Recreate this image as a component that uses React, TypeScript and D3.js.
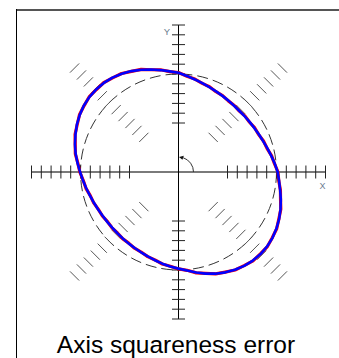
import React from "react";
import * as d3 from "d3";

// ---- data ----
const tickValues = [50, 60, 70, 80, 90, 100, 110, 120, 130, 140, 150];
const axisDirections = [0, 90, 180, 270];
const diagonalDirections = [45, 135, 225, 315];
const nominalRadius = 100;
const axisLabels = ["X", "Y"];
const title = "Axis squareness error";

const traceAngles = [
  0, 5, 10, 15, 20, 25, 30, 35, 40, 45, 50, 55, 60, 65, 70, 75, 80, 85,
  90, 95, 100, 105, 110, 115, 120, 125, 130, 135, 140, 145, 150, 155, 160, 165, 170, 175,
  180, 185, 190, 195, 200, 205, 210, 215, 220, 225, 230, 235, 240, 245, 250, 255, 260, 265,
  270, 275, 280, 285, 290, 295, 300, 305, 310, 315, 320, 325, 330, 335, 340, 345, 350, 355,
];
const blueRadii = [
  101.2, 98.6, 96.0, 93.8, 91.9, 90.6, 89.5, 88.8, 88.3, 88.0, 88.3, 88.9, 89.7, 90.7, 92.1, 93.9, 95.9, 98.4,
  101.2, 103.1, 105.6, 108.3, 111.0, 113.6, 115.8, 117.5, 118.6, 119.0, 118.8, 118.0, 116.4, 114.4, 111.9, 109.4, 106.6, 103.4,
  100.4, 97.9, 95.6, 93.5, 91.8, 90.5, 89.4, 88.7, 88.3, 88.3, 88.5, 88.9, 89.5, 90.4, 91.6, 93.2, 95.0, 96.8,
  98.6, 101.0, 104.2, 107.4, 110.4, 113.0, 115.2, 116.9, 118.0, 118.4, 118.1, 117.1, 115.4, 113.3, 110.8, 108.1, 105.3, 103.0,
];
const redRadii = [
  101.5, 98.3, 96.4, 93.5, 92.3, 90.3, 89.9, 88.5, 88.7, 87.8, 88.6, 88.6, 90.0, 90.4, 92.5, 93.6, 96.3, 98.1,
  101.5, 102.8, 105.9, 108.0, 111.4, 113.3, 116.1, 117.2, 118.9, 118.7, 119.1, 117.7, 116.7, 114.1, 112.3, 109.1, 106.9, 103.1,
  100.7, 97.6, 95.9, 93.2, 92.1, 90.2, 89.7, 88.4, 88.6, 88.0, 88.8, 88.6, 89.8, 90.1, 91.9, 92.9, 95.3, 96.5,
  98.9, 100.7, 104.5, 107.1, 110.7, 112.7, 115.5, 116.6, 118.3, 118.1, 118.4, 116.8, 115.7, 113.0, 111.1, 107.8, 105.6, 102.7,
];

// ---- layout ----
const W = 339;
const H = 358;
const cx = 178.5;
const cy = 172;
const tickHalf = 6.5;

export default function App() {
  const rs = d3.scaleLinear().domain([0, 150]).range([0, 147]);
  const rad = (deg: number) => (deg * Math.PI) / 180;

  const radial = d3
    .lineRadial<number>()
    .angle((_, i) => Math.PI / 2 - rad(traceAngles[i]))
    .radius((r) => rs(r))
    .curve(d3.curveLinearClosed);

  const tickLines = (dirs: number[], color: string, prefix: string) =>
    dirs.flatMap((deg) =>
      tickValues.map((t) => {
        const a = rad(deg);
        const px = cx + rs(t) * Math.cos(a);
        const py = cy - rs(t) * Math.sin(a);
        const ox = Math.sin(a) * tickHalf;
        const oy = Math.cos(a) * tickHalf;
        return (
          <line
            key={`${prefix}-${deg}-${t}`}
            x1={px - ox}
            y1={py - oy}
            x2={px + ox}
            y2={py + oy}
            stroke={color}
            strokeWidth={1}
          />
        );
      })
    );

  const maxR = rs(tickValues[tickValues.length - 1]);

  // rotation arrow (small arc from X toward Y)
  const arcR = 15;
  const p = d3.path();
  p.arc(cx, cy, arcR, 0, -rad(72), true);
  const tipA = rad(88);
  const tip = [cx + arcR * Math.cos(tipA), cy - arcR * Math.sin(tipA)];
  const baseA = rad(72);
  const base = [cx + arcR * Math.cos(baseA), cy - arcR * Math.sin(baseA)];
  const nx = Math.cos(baseA) * 2.2;
  const ny = -Math.sin(baseA) * 2.2;

  return (
    <svg
      width={W}
      height={H}
      style={{ position: "absolute", left: 0, top: 0, background: "#fff" }}
      fontFamily="'Liberation Sans', Arial, sans-serif"
    >
      {/* frame */}
      <line x1={16} y1={10} x2={W} y2={10} stroke="#555" strokeWidth={2} />
      <line x1={16.5} y1={9} x2={16.5} y2={H} stroke="#000" strokeWidth={1} />

      {/* dashed nominal circle */}
      <circle
        cx={cx}
        cy={cy}
        r={rs(nominalRadius)}
        fill="none"
        stroke="#333"
        strokeWidth={1}
        strokeDasharray="11 5"
      />

      {/* diagonal ticks */}
      {tickLines(diagonalDirections, "#555", "d")}

      {/* axes */}
      <line x1={cx - maxR} y1={cy} x2={cx + maxR} y2={cy} stroke="#7a7a7a" strokeWidth={2} />
      <line x1={cx} y1={cy - maxR} x2={cx} y2={cy + maxR} stroke="#000" strokeWidth={1} />
      {tickLines(axisDirections, "#222", "a")}

      {/* measured traces */}
      <path
        d={radial(redRadii) || ""}
        transform={`translate(${cx},${cy})`}
        fill="none"
        stroke="#ff0000"
        strokeWidth={3.2}
        strokeLinejoin="round"
      />
      <path
        d={radial(blueRadii) || ""}
        transform={`translate(${cx},${cy})`}
        fill="none"
        stroke="#0000ff"
        strokeWidth={2.6}
        strokeLinejoin="round"
      />

      {/* rotation arrow */}
      <path d={p.toString()} fill="none" stroke="#333" strokeWidth={1} />
      <path
        d={`M${tip[0]},${tip[1]} L${base[0] + nx},${base[1] + ny} L${base[0] - nx},${base[1] - ny} Z`}
        fill="#111"
      />

      {/* axis labels */}
      <text x={322.5} y={188.5} fontSize={9} fill="#6b7a8f" textAnchor="middle">
        {axisLabels[0]}
      </text>
      <text x={167} y={34.5} fontSize={9.5} fill="#6b7a8f" textAnchor="middle">
        {axisLabels[1]}
      </text>

      {/* title */}
      <text x={176} y={352.5} fontSize={24.5} fill="#000" textAnchor="middle">
        {title}
      </text>
    </svg>
  );
}
